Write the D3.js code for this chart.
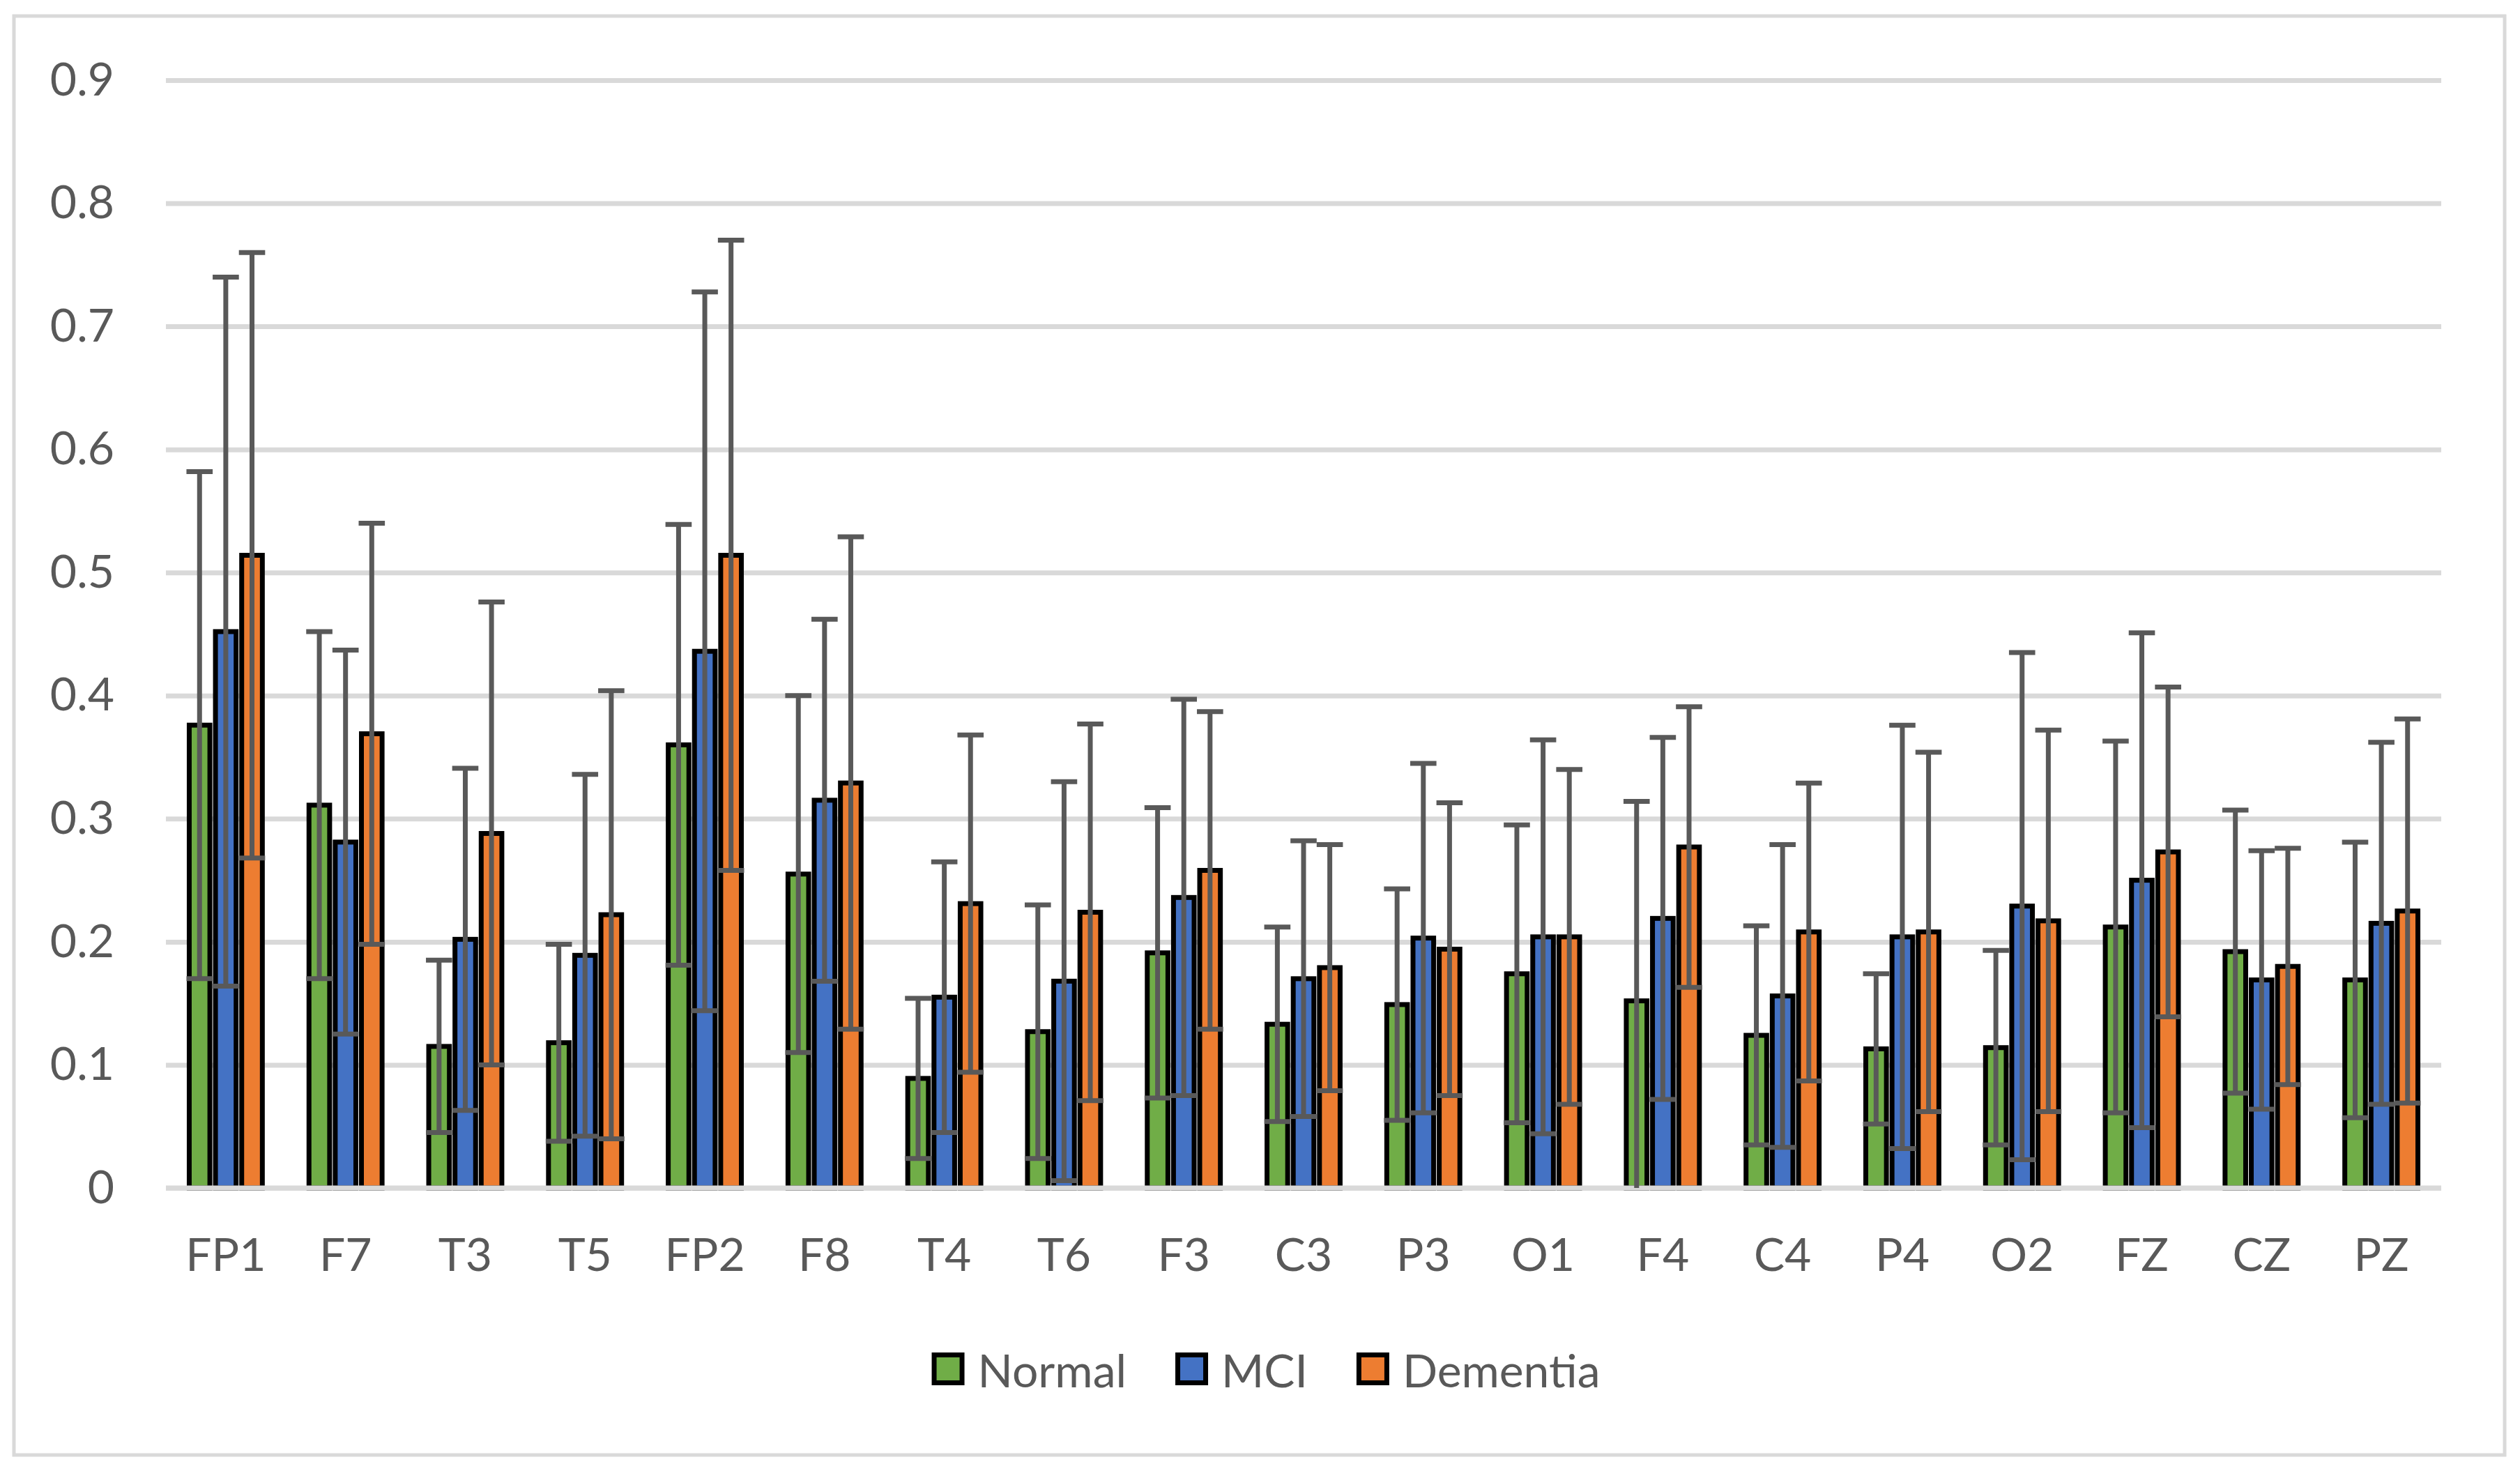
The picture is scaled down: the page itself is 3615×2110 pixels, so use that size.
<!DOCTYPE html>
<html lang="en">
<head>
<meta charset="utf-8">
<title>Normal / MCI / Dementia by channel</title>
<script src="https://d3js.org/d3.v7.min.js"></script>
<style>
  body { margin: 0; background: #fff; }
  svg text { font-family: Lato, "Open Sans", sans-serif; fill: #595959; }
</style>
</head>
<body>
<script>
// channel names (x axis)
var channels = ["FP1", "F7", "T3", "T5", "FP2", "F8", "T4", "T6", "F3", "C3",
                "P3", "O1", "F4", "C4", "P4", "O2", "FZ", "CZ", "PZ"];

var groups = ["Normal", "MCI", "Dementia"];
var colors = ["#70AD47", "#4472C4", "#ED7D31"];

// means
var normalMean   = [0.376, 0.311, 0.115, 0.118, 0.360, 0.255, 0.089, 0.127, 0.191, 0.133,
                    0.149, 0.174, 0.152, 0.124, 0.113, 0.114, 0.212, 0.192, 0.169];
var mciMean      = [0.452, 0.281, 0.202, 0.189, 0.436, 0.315, 0.155, 0.168, 0.236, 0.170,
                    0.203, 0.204, 0.219, 0.156, 0.204, 0.229, 0.250, 0.169, 0.215];
var dementiaMean = [0.514, 0.369, 0.288, 0.222, 0.514, 0.329, 0.231, 0.224, 0.258, 0.179,
                    0.194, 0.204, 0.277, 0.208, 0.208, 0.217, 0.273, 0.180, 0.225];

// standard deviations (error bar half length)
var normalSd     = [0.206, 0.141, 0.070, 0.080, 0.179, 0.145, 0.065, 0.103, 0.118, 0.079,
                    0.094, 0.121, 0.162, 0.089, 0.061, 0.079, 0.151, 0.115, 0.112];
var mciSd        = [0.288, 0.156, 0.139, 0.147, 0.292, 0.147, 0.110, 0.162, 0.161, 0.112,
                    0.142, 0.160, 0.147, 0.123, 0.172, 0.206, 0.201, 0.105, 0.147];
var dementiaSd   = [0.246, 0.171, 0.188, 0.182, 0.256, 0.200, 0.137, 0.153, 0.129, 0.100,
                    0.119, 0.136, 0.114, 0.121, 0.146, 0.155, 0.134, 0.096, 0.156];

var yTicks = [0, 0.1, 0.2, 0.3, 0.4, 0.5, 0.6, 0.7, 0.8, 0.9];
var yTickLabels = ["0", "0.1", "0.2", "0.3", "0.4", "0.5", "0.6", "0.7", "0.8", "0.9"];

var means = [normalMean, mciMean, dementiaMean];
var sds = [normalSd, mciSd, dementiaSd];

//Width and height
var w = 3615, h = 2110;
var left = 238, right = 3502;
var fontSize = 66;

var svg = d3.select("body").append("svg")
    .attr("width", w)
    .attr("height", h);

svg.append("rect")
    .attr("width", w).attr("height", h)
    .attr("fill", "#fff");

//chart border
svg.append("rect")
    .attr("x", 20).attr("y", 23)
    .attr("width", 3573).attr("height", 2064)
    .attr("fill", "none")
    .attr("stroke", "#D9D9D9")
    .attr("stroke-width", 5);

//scales
var x0 = d3.scaleBand()
    .domain(channels)
    .range([left, right])
    .paddingInner(0.343)
    .paddingOuter(0.1715);

var x1 = d3.scaleBand()
    .domain(groups)
    .range([0, x0.bandwidth()]);

var y = d3.scaleLinear()
    .domain([0, 0.9])
    .range([1704, 115]);

//gridlines
var grid = svg.append("g")
    .attr("transform", "translate(" + left + ",0)")
    .call(d3.axisLeft(y).tickValues(yTicks).tickSize(-(right - left)).tickFormat(""));
grid.select(".domain").remove();
grid.selectAll("line")
    .attr("stroke", "#D9D9D9")
    .attr("stroke-width", 7);

//flatten rows for drawing
var rows = [];
channels.forEach(function(c, i) {
    groups.forEach(function(g, j) {
        rows.push({ channel: c, group: g, k: j, mean: means[j][i], sd: sds[j][i] });
    });
});

//bars
svg.append("g").selectAll("rect")
    .data(rows)
    .join("rect")
    .attr("x", function(d) { return x0(d.channel) + x1(d.group) + 4; })
    .attr("width", x1.bandwidth() - 8)
    .attr("y", function(d) { return y(d.mean); })
    .attr("height", function(d) { return y(0) - y(d.mean); })
    .attr("fill", function(d) { return colors[d.k]; })
    .attr("stroke", "#000")
    .attr("stroke-width", 7);

//zero line over the bar bottoms
svg.append("line")
    .attr("x1", left).attr("x2", right)
    .attr("y1", y(0)).attr("y2", y(0))
    .attr("stroke", "#D9D9D9")
    .attr("stroke-width", 7);

//error bars
var eb = svg.append("g")
    .attr("stroke", "#595959")
    .attr("stroke-width", 7);

var cx = function(d) { return x0(d.channel) + x1(d.group) + x1.bandwidth() / 2; };
var half = x1.bandwidth() / 2;

eb.selectAll(".stem")
    .data(rows)
    .join("line")
    .attr("class", "stem")
    .attr("x1", cx).attr("x2", cx)
    .attr("y1", function(d) { return y(d.mean + d.sd); })
    .attr("y2", function(d) { return y(Math.max(0, d.mean - d.sd)); });

eb.selectAll(".capTop")
    .data(rows)
    .join("line")
    .attr("class", "capTop")
    .attr("x1", function(d) { return cx(d) - half; })
    .attr("x2", function(d) { return cx(d) + half; })
    .attr("y1", function(d) { return y(d.mean + d.sd); })
    .attr("y2", function(d) { return y(d.mean + d.sd); });

eb.selectAll(".capBottom")
    .data(rows.filter(function(d) { return d.mean - d.sd >= 0; }))
    .join("line")
    .attr("class", "capBottom")
    .attr("x1", function(d) { return cx(d) - half; })
    .attr("x2", function(d) { return cx(d) + half; })
    .attr("y1", function(d) { return y(d.mean - d.sd); })
    .attr("y2", function(d) { return y(d.mean - d.sd); });

//y axis labels
var yAxis = svg.append("g")
    .attr("transform", "translate(" + left + ",0)")
    .call(d3.axisLeft(y).tickValues(yTicks).tickSize(0).tickPadding(74)
        .tickFormat(function(d, i) { return yTickLabels[i]; }));
yAxis.select(".domain").remove();
yAxis.selectAll("text")
    .style("font-size", fontSize + "px")
    .attr("fill", "#595959");

//x axis labels
var xAxis = svg.append("g")
    .attr("transform", "translate(0," + y(0) + ")")
    .call(d3.axisBottom(x0).tickSize(0).tickPadding(72));
xAxis.select(".domain").remove();
xAxis.selectAll("text")
    .style("font-size", fontSize + "px")
    .attr("fill", "#595959");

//legend
var legend = svg.append("g");
var lx = 0;
groups.forEach(function(g, j) {
    var it = legend.append("g");
    it.append("rect")
        .attr("x", 3.5).attr("y", -46.5)
        .attr("width", 40).attr("height", 40)
        .attr("fill", colors[j])
        .attr("stroke", "#000")
        .attr("stroke-width", 7);
    var t = it.append("text")
        .attr("x", 66)
        .attr("y", 0)
        .style("font-size", fontSize + "px")
        .text(g);
    var tw = t.node().getComputedTextLength();
    it.attr("transform", "translate(" + lx + ",0)");
    lx += 66 + tw + 70;
});
var legendW = lx - 70;
legend.attr("transform", "translate(" + (1816 - legendW / 2) + ",1990)");
</script>
</body>
</html>
